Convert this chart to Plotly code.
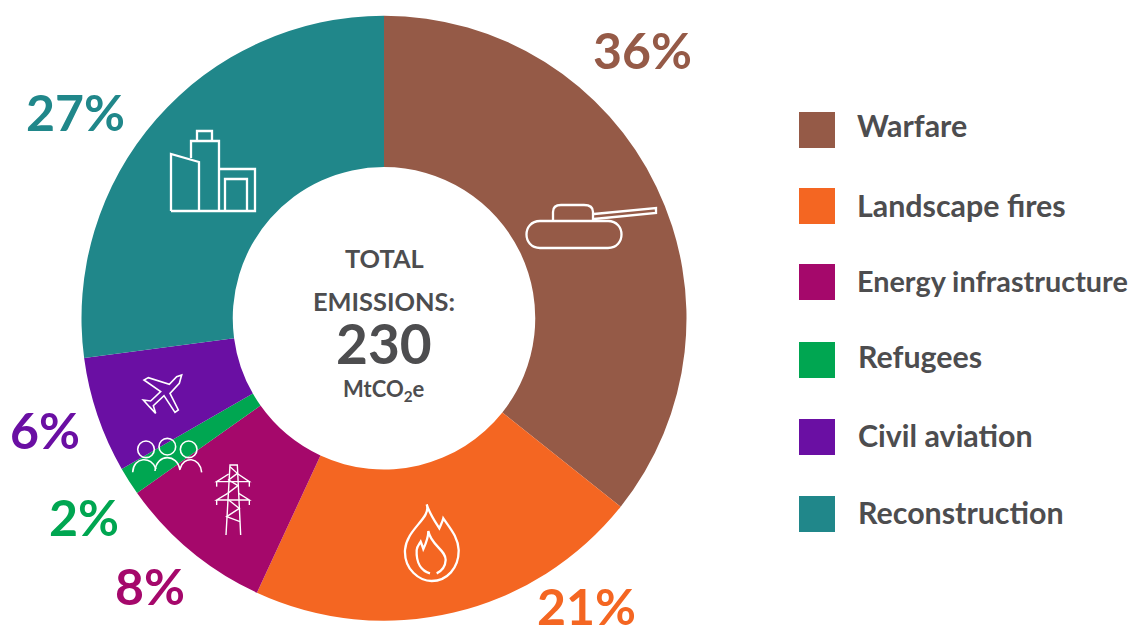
import plotly.graph_objects as go

categories = ["Warfare", "Landscape fires", "Energy infrastructure", "Refugees", "Civil aviation", "Reconstruction"]
values = [35.7, 21.2, 8.3, 1.5, 6.2, 27.1]
percent_labels = ["36%", "21%", "8%", "2%", "6%", "27%"]
colors = ["#955a47", "#f46622", "#a5086b", "#00a651", "#6a0fa3", "#20878a"]

W, H = 1131, 627
TEXT = "#4d4d4f"
FONT = "Lato"
LABEL_POS = [(642.5, 50), (586, 606), (150, 586), (84, 517), (44.5, 430), (75, 112)]
LEGEND_Y = [125, 205, 281, 356, 435, 512]
LEGEND_X = [855, 855, 855, 856, 856, 856]
LEGEND_SIZE = [30.4, 30.4, 28.8, 30.4, 30.4, 30.4]
SWATCH_Y = [130, 206, 282, 360, 437, 514]


def X(v):
    return v / W


def Y(v):
    return 1 - v / H


def path(d):
    """d: list of (cmd, [(x, y), ...]) in pixels"""
    out = []
    for cmd, pts in d:
        out.append(cmd + " ".join(f"{X(x):.5f},{Y(y):.5f}" for x, y in pts))
    return " ".join(out)


def poly(pts, ox=0, oy=0, s=1.0, closed=False):
    p = [(ox + x * s, oy + y * s) for x, y in pts]
    d = [("M", [p[0]])] + [("L", [q]) for q in p[1:]]
    return path(d) + (" Z" if closed else "")


def curve(start, segs, ox=0, oy=0, s=1 / 3):
    f = lambda q: (ox + q[0] * s, oy + q[1] * s)
    d = [("M", [f(start)])]
    for seg in segs:
        if len(seg) == 3:
            d.append(("C", [f(q) for q in seg]))
        else:
            d.append(("L", [f(seg[0])]))
    return path(d)


shapes = []


def stroke(d, w=2.3):
    shapes.append(dict(type="path", path=d, xref="paper", yref="paper",
                       line=dict(color="white", width=w), layer="above"))


# Tank
stroke(curve((540 * 3, 221 * 3), [
    [(608 * 3, 221 * 3)],
    [(626 * 3, 221 * 3), (626 * 3, 248 * 3), (608 * 3, 248 * 3)],
    [(540 * 3, 248 * 3)],
    [(522 * 3, 248 * 3), (522 * 3, 221 * 3), (540 * 3, 221 * 3)],
]))
stroke(curve((553 * 3, 221 * 3), [
    [(553 * 3, 212 * 3)],
    [(553 * 3, 207 * 3), (556 * 3, 205 * 3), (561 * 3, 205 * 3)],
    [(584 * 3, 205 * 3)],
    [(590 * 3, 205 * 3), (593 * 3, 207 * 3), (593 * 3, 212 * 3)],
    [(593 * 3, 221 * 3)],
]))
stroke(poly([(594, 214), (656, 208), (656, 213), (594, 219)]))

# Buildings
stroke(poly([(171, 211), (171, 154), (199, 162), (199, 211)]))
stroke(poly([(191, 158), (191, 141), (219, 141), (219, 211)]))
stroke(poly([(197, 141), (197, 131), (212, 131), (212, 141)]))
stroke(poly([(219, 169), (255, 169), (255, 211), (171, 211)]))
stroke(poly([(225, 211), (225, 179), (247, 179), (247, 211)]))

# Plane
stroke(poly([(185, 30), (178, 55), (150, 85), (175, 135), (165, 142), (132, 92), (100, 122), (107, 145),
             (88, 125), (70, 105), (92, 108), (122, 80), (72, 45), (85, 38), (148, 58), (170, 35)],
            120, 365, 1 / 3, closed=True), 1.6)

# People
for cx, cy in [(78, 253), (142, 245), (206, 253)]:
    shapes.append(dict(type="circle", xref="paper", yref="paper",
                       x0=X(120 + (cx - 25) / 3), x1=X(120 + (cx + 25) / 3),
                       y0=Y(365 + (cy + 25) / 3), y1=Y(365 + (cy - 25) / 3),
                       line=dict(color="white", width=1.6), layer="above"))
stroke(curve((38, 322), [[(40, 275), (95, 272), (108, 312)]], 120, 365), 1.6)
stroke(curve((105, 318), [[(110, 265), (172, 265), (180, 315)]], 120, 365), 1.6)
stroke(curve((180, 312), [[(190, 272), (240, 275), (245, 322)]], 120, 365), 1.6)

# Pylon
P = (120, 365, 1 / 3)
for seg in [
    [(318, 510), (330, 300), (352, 300), (362, 510)],
    [(326, 327), (290, 350), (388, 350), (354, 327)],
    [(290, 350), (290, 365)], [(388, 350), (388, 365)],
    [(323, 385), (290, 405), (388, 405), (356, 385)],
    [(290, 405), (290, 420)], [(388, 405), (388, 420)],
    [(330, 305), (352, 325), (326, 345), (354, 362), (323, 385)],
    [(326, 405), (358, 430), (320, 455), (360, 470)],
]:
    stroke(poly(seg, *P), 1.4)

# Flame
stroke(curve((110, 28), [
    [(125, 70), (50, 100), (45, 165)],
    [(42, 225), (90, 258), (125, 258)],
    [(170, 258), (207, 220), (206, 165)],
    [(204, 125), (180, 100), (160, 70)],
    [(158, 80), (152, 90), (148, 100)],
    [(135, 80), (118, 55), (110, 28)],
], 390, 495), 2.3)
stroke(curve((120, 235), [
    [(95, 228), (78, 205), (80, 165)],
    [(81, 155), (87, 148), (92, 140)],
    [(95, 148), (98, 155), (100, 162)],
    [(108, 145), (115, 125), (115, 108)],
    [(122, 150), (168, 165), (167, 195)],
    [(166, 215), (155, 228), (140, 235)],
], 390, 495), 2.3)

annotations = []


def text(x, y, t, size, color=TEXT, anchor="center"):
    annotations.append(dict(x=X(x), y=Y(y), xref="paper", yref="paper", text=f"<b>{t}</b>", showarrow=False,
                            xanchor=anchor, yanchor="middle", font=dict(family=FONT, size=size, color=color)))


for lab, (x, y), c in zip(percent_labels, LABEL_POS, colors):
    text(x, y, lab, 50, c)

for cat, tx, ty, size, sy, c in zip(categories, LEGEND_X, LEGEND_Y, LEGEND_SIZE, SWATCH_Y, colors):
    text(tx, ty, cat, size, TEXT, "left")
    shapes.append(dict(type="rect", xref="paper", yref="paper", x0=X(799), x1=X(835), y0=Y(sy + 18), y1=Y(sy - 18),
                       fillcolor=c, line=dict(width=0)))

text(384, 258, "TOTAL", 25.4)
text(384, 301, "EMISSIONS:", 25.4)
text(384, 343, "230", 55)
annotations.append(dict(x=X(384), y=Y(390), xref="paper", yref="paper", text="<b>MtCO<sub>2</sub>e</b>",
                        showarrow=False, xanchor="center", yanchor="middle",
                        font=dict(family=FONT, size=22, color=TEXT)))

fig = go.Figure(go.Pie(
    labels=categories, values=values, hole=0.5, sort=False, direction="clockwise", rotation=0,
    marker=dict(colors=colors, line=dict(width=0)), textinfo="none", showlegend=False,
    domain=dict(x=[X(81.5), X(686.5)], y=[Y(621), Y(15.5)]),
))
fig.update_layout(width=W, height=H, margin=dict(l=0, r=0, t=0, b=0), paper_bgcolor="white",
                  shapes=shapes, annotations=annotations, showlegend=False)
fig.write_html("out.html", config=dict(displayModeBar=False),
               post_script="document.body.style.margin='0';document.documentElement.style.overflow='hidden';")
